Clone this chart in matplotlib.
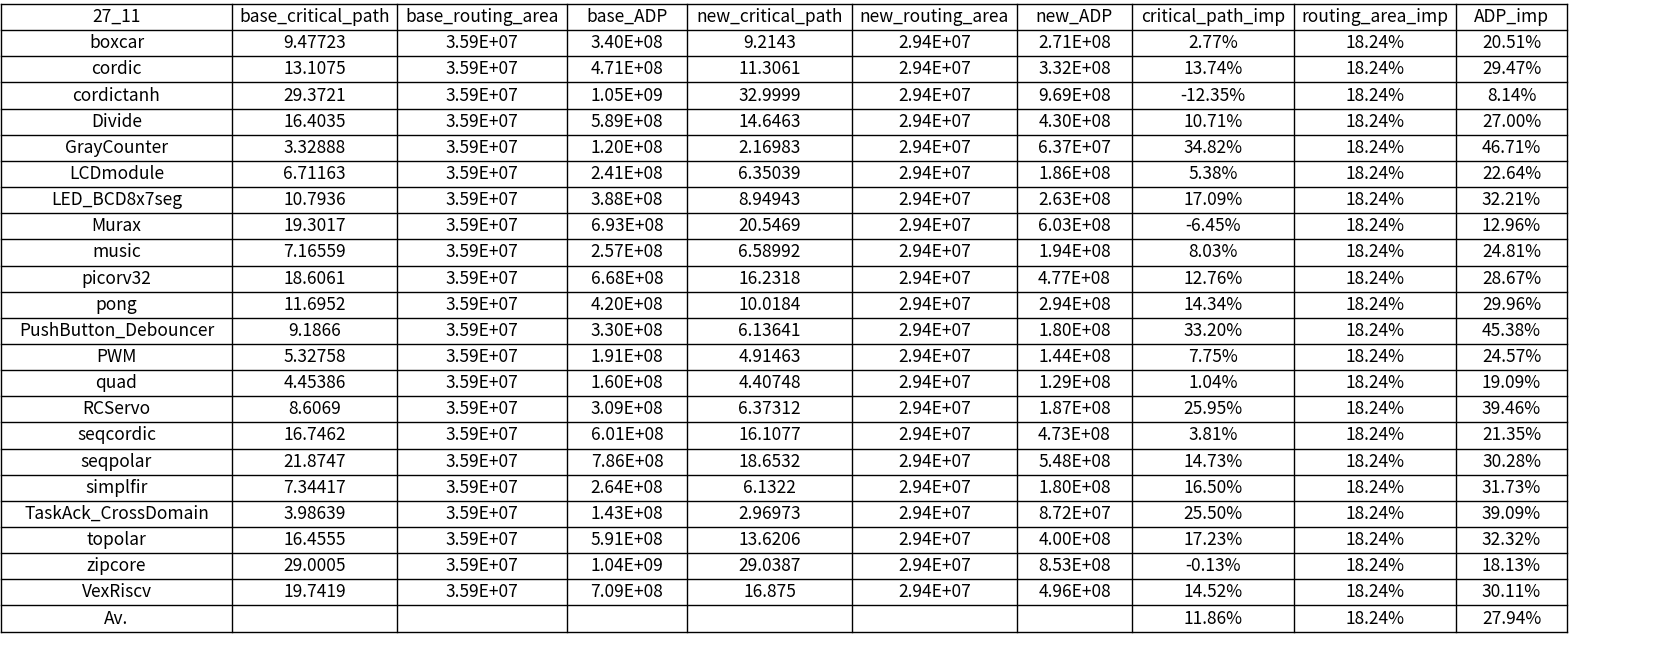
import matplotlib
matplotlib.use("Agg")
import matplotlib.pyplot as plt

plt.rcParams['font.family'] = ['Noto Sans CJK SC', 'DejaVu Sans']

header = ["27_11", "base_critical_path", "base_routing_area", "base_ADP", "new_critical_path",
          "new_routing_area", "new_ADP", "critical_path_imp", "routing_area_imp", "ADP_imp"]
names = ["boxcar", "cordic", "cordictanh", "Divide", "GrayCounter", "LCDmodule", "LED_BCD8x7seg",
         "Murax", "music", "picorv32", "pong", "PushButton_Debouncer", "PWM", "quad", "RCServo",
         "seqcordic", "seqpolar", "simplfir", "TaskAck_CrossDomain", "topolar", "zipcore", "VexRiscv"]
base_cp = ["9.47723", "13.1075", "29.3721", "16.4035", "3.32888", "6.71163", "10.7936", "19.3017",
           "7.16559", "18.6061", "11.6952", "9.1866", "5.32758", "4.45386", "8.6069", "16.7462",
           "21.8747", "7.34417", "3.98639", "16.4555", "29.0005", "19.7419"]
base_area = ["3.59E+07"] * 22
base_adp = ["3.40E+08", "4.71E+08", "1.05E+09", "5.89E+08", "1.20E+08", "2.41E+08", "3.88E+08",
            "6.93E+08", "2.57E+08", "6.68E+08", "4.20E+08", "3.30E+08", "1.91E+08", "1.60E+08",
            "3.09E+08", "6.01E+08", "7.86E+08", "2.64E+08", "1.43E+08", "5.91E+08", "1.04E+09", "7.09E+08"]
new_cp = ["9.2143", "11.3061", "32.9999", "14.6463", "2.16983", "6.35039", "8.94943", "20.5469",
          "6.58992", "16.2318", "10.0184", "6.13641", "4.91463", "4.40748", "6.37312", "16.1077",
          "18.6532", "6.1322", "2.96973", "13.6206", "29.0387", "16.875"]
new_area = ["2.94E+07"] * 22
new_adp = ["2.71E+08", "3.32E+08", "9.69E+08", "4.30E+08", "6.37E+07", "1.86E+08", "2.63E+08",
           "6.03E+08", "1.94E+08", "4.77E+08", "2.94E+08", "1.80E+08", "1.44E+08", "1.29E+08",
           "1.87E+08", "4.73E+08", "5.48E+08", "1.80E+08", "8.72E+07", "4.00E+08", "8.53E+08", "4.96E+08"]
cp_imp = ["2.77%", "13.74%", "-12.35%", "10.71%", "34.82%", "5.38%", "17.09%", "-6.45%", "8.03%",
          "12.76%", "14.34%", "33.20%", "7.75%", "1.04%", "25.95%", "3.81%", "14.73%", "16.50%",
          "25.50%", "17.23%", "-0.13%", "14.52%"]
area_imp = ["18.24%"] * 22
adp_imp = ["20.51%", "29.47%", "8.14%", "27.00%", "46.71%", "22.64%", "32.21%", "12.96%", "24.81%",
           "28.67%", "29.96%", "45.38%", "24.57%", "19.09%", "39.46%", "21.35%", "30.28%", "31.73%",
           "39.09%", "32.32%", "18.13%", "30.11%"]
avg_row = ["Av.", "", "", "", "", "", "", "11.86%", "18.24%", "27.94%"]

rows = [header]
for i in range(len(names)):
    rows.append([names[i], base_cp[i], base_area[i], base_adp[i], new_cp[i], new_area[i],
                 new_adp[i], cp_imp[i], area_imp[i], adp_imp[i]])
rows.append(avg_row)

W, H = 1668, 672
colx = [1, 232, 397, 567, 687, 852, 1017, 1132, 1294, 1456, 1567]
top, rh = 4, 26.15
nrows = len(rows)

fig = plt.figure(figsize=(W / 100, H / 100), dpi=100)
ax = fig.add_axes([0, 0, 1, 1])
ax.set_xlim(0, W)
ax.set_ylim(H, 0)
ax.axis('off')

bottom = top + rh * nrows
for x in colx:
    ax.plot([x, x], [top, bottom], color='black', lw=1)
for r in range(nrows + 1):
    y = top + r * rh
    ax.plot([colx[0], colx[-1]], [y, y], color='black', lw=1)

for r, row in enumerate(rows):
    yc = top + (r + 0.5) * rh
    for c, txt in enumerate(row):
        xc = (colx[c] + colx[c + 1]) / 2
        ax.text(xc, yc, txt, ha='center', va='center', fontsize=12.5, color='black')

fig.savefig("out.png", dpi=100, facecolor='white')
